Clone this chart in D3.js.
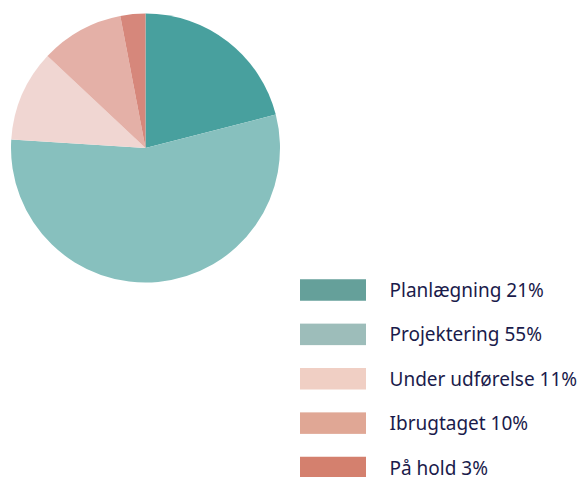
<!DOCTYPE html>
<html><head><meta charset="utf-8">
<script src="https://cdn.jsdelivr.net/npm/d3@7"></script>
<style>body{margin:0;background:#fff;} svg{display:block;}</style>
</head><body>
<svg id="c" width="577" height="477"></svg>
<script>
const categories = ["Planlægning", "Projektering", "Under udførelse", "Ibrugtaget", "På hold"];
const values = [21, 55, 11, 10, 3];
const sliceColors = ["#48A09E", "#87C0BE", "#F0D6D2", "#E4B0A7", "#D6877B"];
const legendColors = ["#65A09A", "#9DBDBA", "#F0CFC4", "#E0A795", "#D4806E"];

const svg = d3.select("#c");
const data = categories.map((c, i) => ({name: c, value: values[i], i}));
const pie = d3.pie().sort(null).value(d => d.value);
const arc = d3.arc().innerRadius(0).outerRadius(134.5);
const g = svg.append("g").attr("transform", "translate(145.5,148)");
g.selectAll("path").data(pie(data)).join("path")
  .attr("d", arc).attr("fill", d => sliceColors[d.data.i]);

const y = d3.scalePoint().domain(categories).range([290, 467.5]);
const lg = svg.append("g");
const rows = lg.selectAll("g").data(data).join("g")
  .attr("transform", d => `translate(0,${y(d.name)})`);
rows.append("rect").attr("x", 300).attr("y", -10.75).attr("width", 66).attr("height", 21.5)
  .attr("fill", d => legendColors[d.i]);
rows.append("text").attr("x", 389.5).attr("y", 7)
  .attr("font-family", "'Noto Sans', sans-serif").attr("font-size", 19)
  .attr("fill", "#1a1b4b")
  .text(d => `${d.name} ${d.value}%`);
</script>
</body></html>
